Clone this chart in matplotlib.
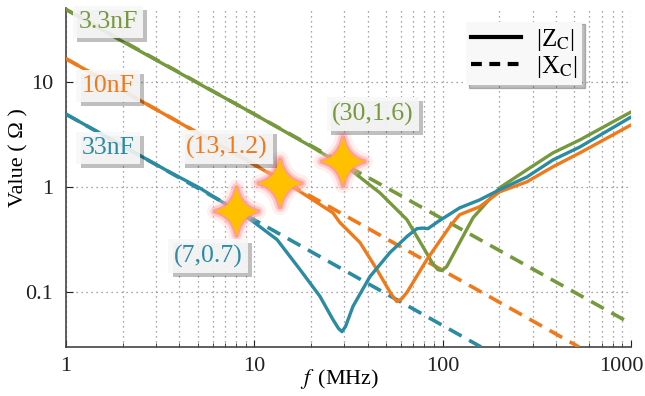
import numpy as np
import matplotlib.pyplot as plt
from matplotlib.path import Path
from matplotlib.lines import Line2D
import matplotlib.patheffects as pe
import matplotlib.transforms as mtransforms

plt.rcParams['font.family'] = ['Liberation Serif', 'DejaVu Serif']
plt.rcParams['mathtext.fontset'] = 'stix'

# |Zc| (MHz, ohm)
f_33n = [1, 2, 3.5, 5.1, 9.5, 13.2, 17.5, 22.3, 26.1, 28, 29.2, 30.5, 33.4, 41.1, 52.5, 65, 73, 78, 83.5, 95, 123, 157, 201, 280, 385, 535, 1000]
z_33n = [4.9, 2.45, 1.4, 0.98, 0.49, 0.315, 0.163, 0.091, 0.055, 0.045, 0.042, 0.047, 0.073, 0.14, 0.237, 0.34, 0.4, 0.405, 0.40, 0.47, 0.63, 0.75, 0.94, 1.24, 1.8, 2.39, 4.6]

f_10n = [1, 2, 5, 8.7, 17.5, 26.1, 28.5, 36.4, 44.8, 53, 57.1, 60.5, 64.6, 82.4, 109, 123, 157, 201, 280, 385, 535, 1000]
z_10n = [16.5, 8.2, 3.25, 1.88, 0.9, 0.567, 0.456, 0.295, 0.163, 0.097, 0.081, 0.086, 0.099, 0.203, 0.418, 0.543, 0.646, 0.897, 1.115, 1.55, 2.1, 3.87]

f_3n3 = [1, 2, 5, 10, 20, 33.4, 46.4, 64.6, 78.5, 88, 94.3, 99, 105, 128, 145, 201, 280, 385, 535, 1000]
z_3n3 = [48.5, 24, 9.7, 4.9, 2.42, 1.39, 0.877, 0.487, 0.27, 0.19, 0.163, 0.16, 0.174, 0.336, 0.508, 0.98, 1.45, 2.1, 2.79, 5.14]

# |Xc| straight lines
fx_33n = [1, 160]
x_33n = [4.9, 0.03]
fx_10n = [1, 530]
x_10n = [16.5, 0.03]
fx_3n3 = [1, 1000]
x_3n3 = [48.5, 0.05]

# highlighted points
star_f = [8.05, 13.7, 29.6]
star_v = [0.584, 1.08, 1.74]
star_txt = ['(7,0.7)', '(13,1.2)', '(30,1.6)']

c_teal = '#2b8ba3'
c_orange = '#f07a1a'
c_green = '#76993d'

fig = plt.figure(figsize=(6.45, 3.96), dpi=100)
ax = fig.add_axes([0.1023, 0.1237, 0.876, 0.856])

lw = 2.4
for fs, zs, fx, xs, c in [(f_3n3, z_3n3, fx_3n3, x_3n3, c_green),
                          (f_10n, z_10n, fx_10n, x_10n, c_orange),
                          (f_33n, z_33n, fx_33n, x_33n, c_teal)]:
    ax.plot(fx, xs, color=c, lw=2.6, dashes=(4, 2.4), zorder=3)
    ax.plot(fs, zs, color=c, lw=lw, zorder=4, solid_capstyle='round', solid_joinstyle='round')

# 4 point star marker
c = 0.18
star = Path([(0, 1), (c, c), (0.9, 0), (c, -c), (0, -1), (-c, -c), (-0.9, 0), (-c, c), (0, 1), (0, 1)],
            [Path.MOVETO, Path.CURVE3, Path.CURVE3, Path.CURVE3, Path.CURVE3,
             Path.CURVE3, Path.CURVE3, Path.CURVE3, Path.CURVE3, Path.CLOSEPOLY])
ax.plot(star_f, star_v, ls='none', marker=star, ms=34, mfc='#ffc000', mec='#ffc000', mew=0.5, zorder=6,
        path_effects=[pe.Stroke(linewidth=12, foreground='#ffc8c8', alpha=0.3),
                      pe.Stroke(linewidth=7, foreground='#ffa0a0', alpha=0.45),
                      pe.Stroke(linewidth=3.5, foreground='#ff8a8a', alpha=0.7),
                      pe.Normal()])

ax.set_xscale('log')
ax.set_yscale('log')
ax.set_xlim(1, 1000)
ax.set_ylim(0.03, 50)

ax.set_xticks([1, 10, 100, 1000])
ax.set_xticklabels(['1', '10', '100', '1000'])
ax.set_yticks([0.1, 1, 10])
ax.set_yticklabels(['0.1', '1', '10'])
ax.yaxis.set_minor_locator(plt.NullLocator())
ax.tick_params(axis='both', which='both', direction='in', labelsize=16, colors='#222222')
ax.tick_params(axis='x', which='major', length=5, pad=7)
ax.tick_params(axis='x', which='minor', length=3)
ax.tick_params(axis='y', which='major', length=5, pad=9)
lab = ax.get_xticklabels()[-1]
lab.set_transform(lab.get_transform() + mtransforms.ScaledTranslation(-10 / 100, 0, fig.dpi_scale_trans))

ax.grid(True, which='major', ls=(0, (1, 3)), color='#888888', lw=0.9)
ax.grid(True, which='minor', axis='x', ls=(0, (1, 3)), color='#888888', lw=0.9)
for s in ['top', 'right']:
    ax.spines[s].set_visible(False)
for s in ['left', 'bottom']:
    ax.spines[s].set_color('#444444')
    ax.spines[s].set_linewidth(1.2)

ax.set_xlabel(r'$f\,$ (MHz)', fontsize=16)
ax.xaxis.set_label_coords(0.484, -0.06)
ax.set_ylabel('Value ( Ω )', fontsize=16)
ax.yaxis.set_label_coords(-0.066, 0.56)

shadow = [pe.withSimplePatchShadow(offset=(3, -3), shadow_rgbFace='#000000', alpha=0.25)]


def boxed(x, y, s, color):
    t = fig.text(x / 645, 1 - y / 396, s, color=color, fontsize=18.5, ha='center', va='center', zorder=10,
                 bbox=dict(boxstyle='square,pad=0.2', fc='#f8f8f8', ec='none', alpha=0.9))
    t.get_bbox_patch().set_path_effects(shadow)


boxed(108, 22, '3.3nF', c_green)
boxed(108, 86, '10nF', c_orange)
boxed(108, 148, '33nF', c_teal)
boxed(208, 256, star_txt[0], c_teal)
boxed(227, 147, star_txt[1], c_orange)
boxed(373, 114, star_txt[2], c_green)

handles = [Line2D([], [], color='black', lw=3),
           Line2D([], [], color='black', lw=3, dashes=(2.6, 1.8))]
leg = ax.legend(handles, [r'|Z$_{\mathrm{C}}$|', r'|X$_{\mathrm{C}}$|'], loc='upper left',
                bbox_to_anchor=(0.708, 0.96), fontsize=18, frameon=True, fancybox=False,
                shadow={'color': '#000000', 'alpha': 0.25}, handlelength=2.0, handletextpad=0.6,
                borderpad=0.2, labelspacing=0.05, borderaxespad=0)
leg.get_frame().set_facecolor('#f8f8f8')
leg.get_frame().set_edgecolor('none')
leg.set_zorder(10)

fig.savefig('out.png', dpi=100)
